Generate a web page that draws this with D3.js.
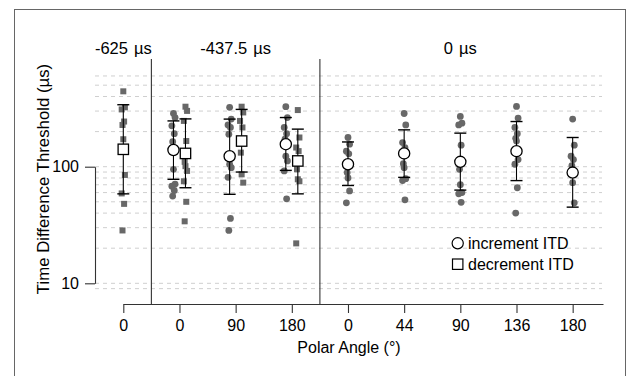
<!DOCTYPE html>
<html>
<head>
<meta charset="utf-8">
<script src="https://cdn.jsdelivr.net/npm/d3@7"></script>
<style>
  html, body { margin: 0; padding: 0; background: #fff; }
  svg { display: block; font-family: "Liberation Sans", Arial, Helvetica, sans-serif; }
</style>
</head>
<body>
<svg id="chart" width="631" height="376"></svg>
<script>
// Polar angle categories along the x axis (one slot per condition)
const angleLabels = ["0", "0", "90", "180", "0", "44", "90", "136", "180"];

// Reference-ITD blocks: value label and the slot it is centred over
const blockTitles = ["-625", "-437.5", "0"];
const blockUnit = "µs";
const blockCenters = [0, 2, 6];
const blockDividers = [0.5, 3.5];

// Individual listener thresholds (µs), increment ITD
const incrementPoints = [
  null,
  [286, 264, 224, 192, 164, 95, 71, 68, 62.5, 56],
  [323, 256, 228, 217, 190, 105, 98, 81, 36, 28.4],
  [327, 264, 217, 192, 172, 123, 112, 92, 53],
  [178, 156, 136, 129, 89, 80, 62, 49],
  [286, 228, 161, 146, 106, 98, 79, 76, 52],
  [270, 236, 228, 153, 95, 70, 60, 58.5, 49.5],
  [329, 261, 217, 192, 175, 166, 115, 105, 66, 40],
  [256, 153, 123, 115, 102, 73, 49]
];
// Group means with lower / upper error bar ends, increment ITD
const incrementMean = [null, 139, 123, 156, 105, 130, 110, 136, 89];
const incrementLow  = [null, 78, 58, 93, 69, 81, 63, 76, 45];
const incrementHigh = [null, 247, 256, 264, 163, 207, 194, 244, 178];

// Individual listener thresholds (µs), decrement ITD
const decrementPoints = [
  [443, 323, 310, 244, 228, 172, 85, 59, 48, 28.4],
  [327, 301, 247, 166, 110, 101, 92, 75, 50, 34],
  [327, 292, 247, 217, 132, 86, 73],
  [306, 178, 146, 136, 95, 78, 75, 22],
  null, null, null, null, null
];
const decrementMean = [141, 130, 166, 112, null, null, null, null, null];
const decrementLow  = [58.5, 66, 90, 58.5, null, null, null, null, null];
const decrementHigh = [340, 257, 310, 210, null, null, null, null, null];

// Y axis labelled ticks and dashed reference lines
const yTickValues = [10, 100];
const gridValues = [9, 10, 20, 30, 40, 50, 60, 70, 80, 90, 100, 200, 300, 400, 500, 600];

const svg = d3.select("#chart");

const x = d3.scaleLinear().domain([0, angleLabels.length - 0.46]).range([123.3, 603]);
const y = d3.scaleLog().domain([10, 100]).range([283.3, 166.7]);

const axisY = 304;
const dividerTop = 59;
const gridLeft = 95, gridRight = 602;
const pointColor = "#686868";

// outer frame
svg.append("rect")
  .attr("x", 14.5).attr("y", 9.5).attr("width", 611).attr("height", 400)
  .attr("fill", "none").attr("stroke", "#666").attr("stroke-width", 1);

// dashed horizontal reference lines
svg.append("g").selectAll("line").data(gridValues).join("line")
  .attr("x1", gridLeft).attr("x2", gridRight)
  .attr("y1", d => y(d)).attr("y2", d => y(d))
  .attr("stroke", "#cfcfcf").attr("stroke-width", 1)
  .attr("stroke-dasharray", "4,4");

// block dividers
svg.append("g").selectAll("line").data(blockDividers).join("line")
  .attr("x1", d => x(d)).attr("x2", d => x(d))
  .attr("y1", dividerTop).attr("y2", axisY)
  .attr("stroke", "#333").attr("stroke-width", 1.1);

// block titles
const titles = svg.append("g").selectAll("text").data(blockTitles).join("text")
  .attr("x", (d, i) => x(blockCenters[i]))
  .attr("y", 54)
  .attr("text-anchor", "middle")
  .attr("font-size", 16.5);
titles.append("tspan").text(d => d);
titles.append("tspan").attr("dx", 6).text(blockUnit);

// horizontal offset per slot: side by side when both series are present
function offset(i, series) {
  const both = incrementMean[i] != null && decrementMean[i] != null;
  if (!both) return 0;
  return series === "inc" ? -6 : 6;
}
// small fixed spread so overlapping listeners stay visible
const spread = k => [0, 1.6, -1.6, 0.8, -0.8][k % 5];

// individual points
const incData = [];
incrementPoints.forEach((arr, i) => { if (arr) arr.forEach((v, k) => incData.push({ i, v, k })); });
const decData = [];
decrementPoints.forEach((arr, i) => { if (arr) arr.forEach((v, k) => decData.push({ i, v, k })); });

svg.append("g").selectAll("circle").data(incData).join("circle")
  .attr("cx", d => x(d.i) + offset(d.i, "inc") + spread(d.k))
  .attr("cy", d => y(d.v))
  .attr("r", 3.4)
  .attr("fill", pointColor);

svg.append("g").selectAll("rect").data(decData).join("rect")
  .attr("x", d => x(d.i) + offset(d.i, "dec") + spread(d.k) - 3)
  .attr("y", d => y(d.v) - 3)
  .attr("width", 6).attr("height", 6)
  .attr("fill", pointColor);

// error bars
function errorBars(mean, low, high, series) {
  const rows = mean.map((m, i) => ({ i, m, lo: low[i], hi: high[i] })).filter(d => d.m != null);
  const g = svg.append("g").attr("stroke", "#000").attr("fill", "none");
  rows.forEach(d => {
    const cx = x(d.i) + offset(d.i, series);
    g.append("line").attr("x1", cx).attr("x2", cx)
      .attr("y1", y(d.hi)).attr("y2", y(d.lo)).attr("stroke-width", 1.1);
    [d.hi, d.lo].forEach(v => {
      g.append("line").attr("x1", cx - 6).attr("x2", cx + 6)
        .attr("y1", y(v)).attr("y2", y(v)).attr("stroke-width", 1.4);
    });
  });
  return rows;
}
const incRows = errorBars(incrementMean, incrementLow, incrementHigh, "inc");
const decRows = errorBars(decrementMean, decrementLow, decrementHigh, "dec");

// mean markers
svg.append("g").selectAll("circle").data(incRows).join("circle")
  .attr("cx", d => x(d.i) + offset(d.i, "inc"))
  .attr("cy", d => y(d.m))
  .attr("r", 5.6)
  .attr("fill", "#fff").attr("stroke", "#000").attr("stroke-width", 1.3);

svg.append("g").selectAll("rect").data(decRows).join("rect")
  .attr("x", d => x(d.i) + offset(d.i, "dec") - 5.2)
  .attr("y", d => y(d.m) - 5.2)
  .attr("width", 10.4).attr("height", 10.4)
  .attr("fill", "#fff").attr("stroke", "#000").attr("stroke-width", 1.3);

// x axis
const xAxis = d3.axisBottom(x)
  .tickValues(d3.range(angleLabels.length))
  .tickFormat(i => angleLabels[i])
  .tickSize(9).tickSizeOuter(0).tickPadding(7);
const gx = svg.append("g").attr("transform", `translate(0,${axisY})`).call(xAxis);
gx.selectAll("path, line").attr("stroke", "#333").attr("stroke-width", 1.1);
gx.selectAll("text").attr("font-size", 16).attr("fill", "#000")
  .attr("font-family", "'Liberation Sans', Arial, sans-serif");

// y axis
const yAxis = d3.axisLeft(y)
  .tickValues(yTickValues)
  .tickFormat(d3.format("d"))
  .tickSize(10).tickSizeOuter(0).tickPadding(6);
const gy = svg.append("g").attr("transform", `translate(${gridLeft},0)`).call(yAxis);
gy.selectAll("path, line").attr("stroke", "#333").attr("stroke-width", 1.1);
gy.selectAll("text").attr("font-size", 16).attr("fill", "#000")
  .attr("font-family", "'Liberation Sans', Arial, sans-serif");

// axis titles
svg.append("text")
  .attr("x", 349).attr("y", 353)
  .attr("text-anchor", "middle").attr("font-size", 16)
  .text("Polar Angle (°)");

svg.append("text")
  .attr("transform", "translate(49,179) rotate(-90)")
  .attr("text-anchor", "middle").attr("font-size", 16.8)
  .text("Time Difference Threshold (µs)");

// legend
const legend = svg.append("g");
legend.append("circle").attr("cx", 457.7).attr("cy", 243.3).attr("r", 5.6)
  .attr("fill", "#fff").attr("stroke", "#000").attr("stroke-width", 1.2);
legend.append("text").attr("x", 468).attr("y", 249).attr("font-size", 16).text("increment ITD");
legend.append("rect").attr("x", 452.5).attr("y", 259).attr("width", 10.4).attr("height", 10.4)
  .attr("fill", "#fff").attr("stroke", "#000").attr("stroke-width", 1.2);
legend.append("text").attr("x", 468).attr("y", 270).attr("font-size", 16).text("decrement ITD");
</script>
</body>
</html>
